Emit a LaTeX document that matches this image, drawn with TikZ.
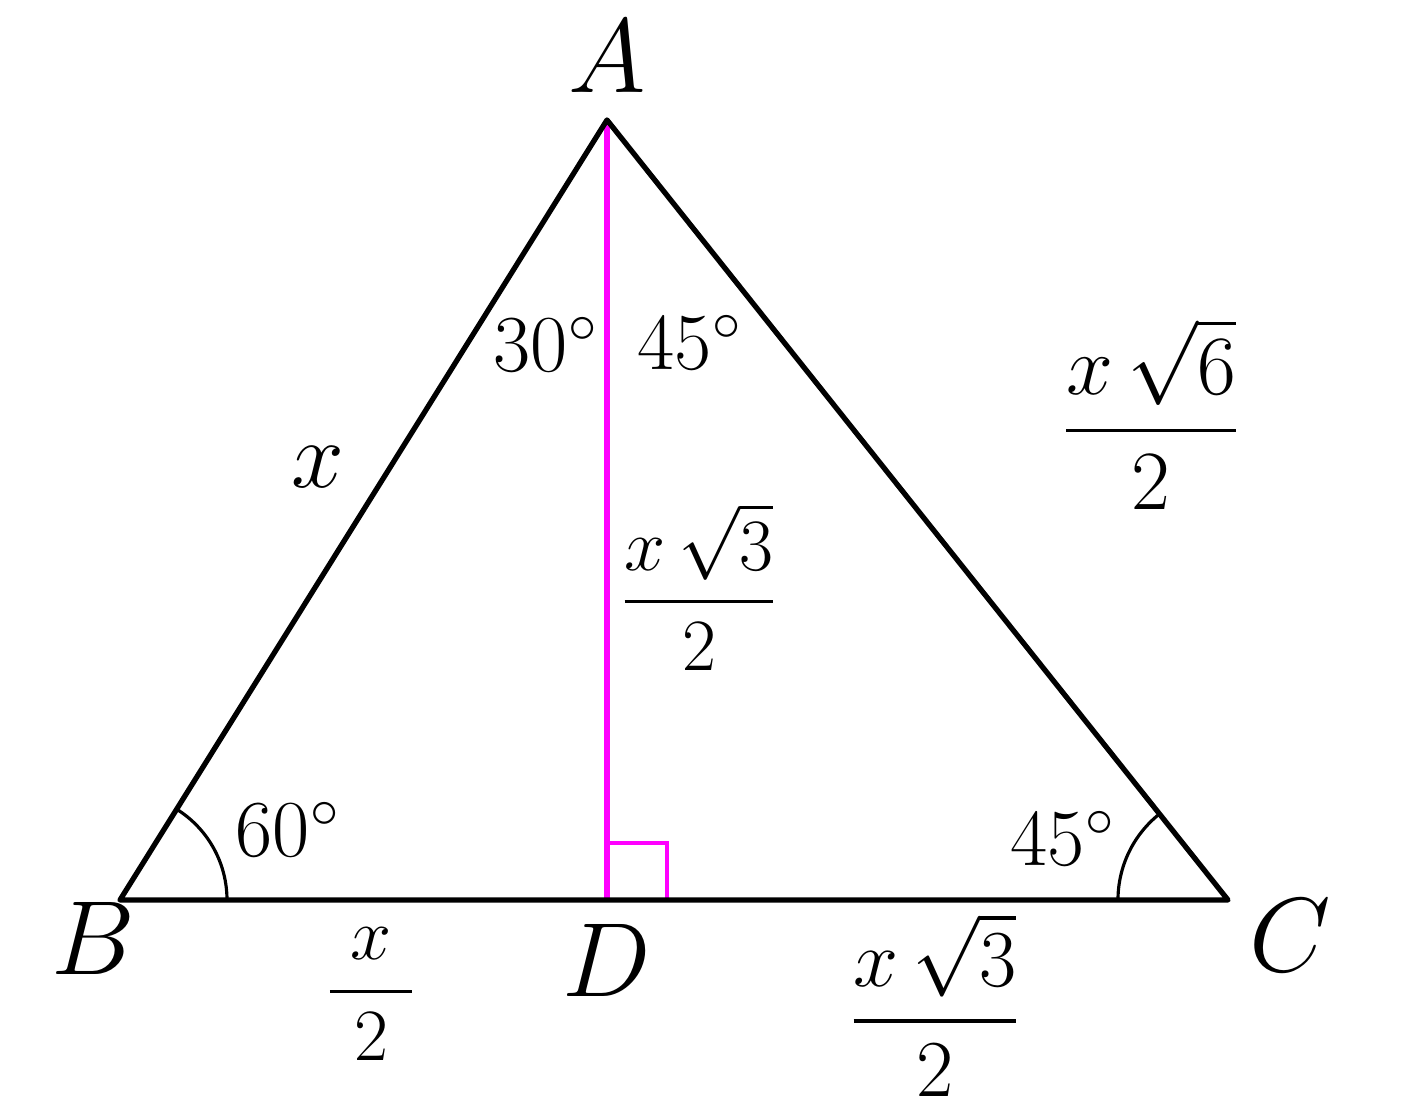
\RequirePackage{fix-cm}
\documentclass[tikz,border=0pt]{standalone}
\usepackage{amsmath,amssymb}
\usepackage{tikz}

\definecolor{altcolor}{RGB}{255,0,255}
\tikzset{
  vertexlabel/.style={anchor=base, inner sep=0pt, font=\fontsize{30}{36}\selectfont},
  anglelabel/.style={anchor=base, inner sep=0pt, font=\fontsize{23}{27}\selectfont},
  sidelabel/.style={inner sep=0pt},
}

\begin{document}
\begin{tikzpicture}
            \useasboundingbox (0,0) rectangle (14.10,11.15);
            \coordinate (A) at (6.07,9.95);
            \coordinate (B) at (1.20,2.15);
            \coordinate (C) at (12.28,2.15);
            \coordinate (D) at (6.07,2.15);

            % Draw the altitude and right angle mark
            \draw[altcolor, line width=1.5pt] (A) -- (D);
            \draw[altcolor, line width=1.1pt] (D) rectangle ++(0.60,0.57);

            % Draw the triangle
            \draw[line width=1.5pt, line join=round] (A) -- (B) -- (C) -- cycle;

            % Angle arcs at B and C
            \draw[line width=0.9pt] (B) ++(0:1.07) arc[start angle=0, end angle=58, radius=1.07];
            \draw[line width=0.9pt] (C) ++(180:1.10) arc[start angle=180, end angle=128.5, radius=1.10];

            % Vertex labels
            \node[vertexlabel] (labA) at (6.07,10.22) {$A$};
            \node[vertexlabel] (labB) at (0.93,1.40) {$B$};
            \node[vertexlabel] (labC) at (12.90,1.43) {$C$};
            \node[vertexlabel] (labD) at (6.07,1.18) {$D$};

            % Angle labels
            \node[anglelabel] (angBA) at (5.46,7.43) {$30^\circ$};
            \node[anglelabel] (angCA) at (6.90,7.45) {$45^\circ$};
            \node[anglelabel] (angB) at (2.88,2.58) {$60^\circ$};
            \node[anglelabel] (angC) at (10.63,2.49) {$45^\circ$};

            % Side lengths
            \node[sidelabel, anchor=base, font=\fontsize{27}{32}\selectfont] (sideAB) at (3.18,6.27) {$x$};
            \node[sidelabel, font=\fontsize{24}{29}\selectfont] (sideAC) at (11.51,7.01) {$\dfrac{x\,\sqrt{6}}{2}$};
            \node[sidelabel, font=\fontsize{21}{25}\selectfont] (sideAD) at (6.99,5.28) {$\dfrac{x\,\sqrt{3}}{2}$};
            \node[sidelabel, font=\fontsize{23}{27}\selectfont] (sideDC) at (9.35,1.10) {$\dfrac{x\,\sqrt{3}}{2}$};
            \node[sidelabel, font=\fontsize{21}{25}\selectfont] (sideBD) at (3.71,1.21) {$\dfrac{\;x\;}{2}$};
\end{tikzpicture}
\end{document}
